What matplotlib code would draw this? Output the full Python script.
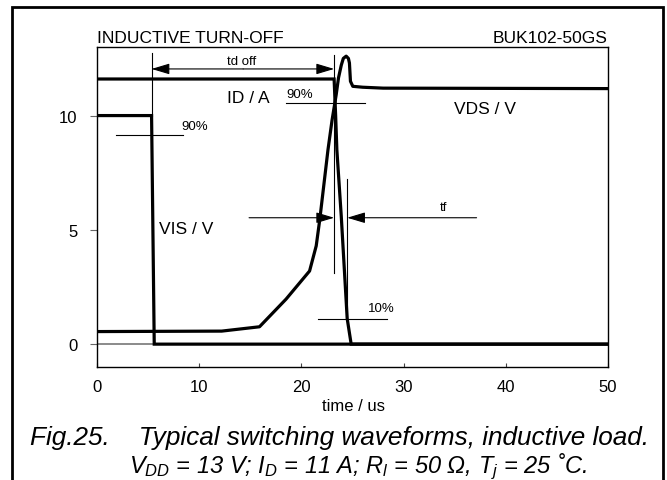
import matplotlib
matplotlib.use("Agg")
import matplotlib.pyplot as plt
from matplotlib.patches import Rectangle

plt.rcParams['font.family'] = ['Liberation Sans', 'DejaVu Sans']
plt.rcParams['mathtext.fontset'] = 'custom'
plt.rcParams['mathtext.it'] = 'Liberation Sans:italic'
plt.rcParams['mathtext.rm'] = 'Liberation Sans:italic'

# ---- data ----
vis_t = [0, 5.34, 5.6, 50]
vis_v = [10, 10, 0, 0]

id_t = [0, 23.2, 23.35, 23.47, 23.9, 24.48, 24.87, 50]
id_a = [11.6, 11.6, 10.0, 8.5, 5.6, 1.12, 0, 0]

vds_t = [0, 12.2, 15.9, 18.5, 20.8, 21.45, 21.8, 22.6, 23.0, 23.4, 23.63,
         23.9, 24.1, 24.38, 24.6, 24.7, 24.8, 25.03, 26.0, 28.0, 50]
vds_v = [0.55, 0.57, 0.76, 1.97, 3.2, 4.3, 5.46, 8.5, 9.8, 10.9, 11.65,
         12.2, 12.5, 12.6, 12.5, 12.3, 11.5, 11.28, 11.24, 11.2, 11.18]

x_ticks = [0, 10, 20, 30, 40, 50]
y_ticks = [0, 5, 10]

W, H = 667, 481
fig = plt.figure(figsize=(W / 100, H / 100), dpi=100)

# outer frame
fig.patches.append(Rectangle((12 / W, -0.05), (663 - 12) / W, 1.05 - 8 / H,
                             transform=fig.transFigure, fill=False,
                             lw=2.0, ec='black'))

ax = fig.add_axes([97 / W, 1 - 368 / H, (608 - 97) / W, (368 - 48) / H])
ax.set_xlim(0, 50)
ax.set_ylim(-1, 13)
for s in ax.spines.values():
    s.set_linewidth(1.0)
    s.set_color('black')

ax.axhline(0, color='#777777', lw=1.2, zorder=1)

lw = 2.3
ax.plot(vis_t, vis_v, color='black', lw=lw, solid_joinstyle='miter', zorder=3)
ax.plot(id_t, id_a, color='black', lw=lw, solid_joinstyle='miter', zorder=3)
ax.plot(vds_t, vds_v, color='black', lw=lw, solid_joinstyle='round', zorder=3)

ax.set_xticks(x_ticks)
ax.set_yticks(y_ticks)
ax.tick_params(axis='x', direction='in', length=3, width=0.8, color='#444444',
               labelsize=12, pad=8.5)
ax.tick_params(axis='y', direction='out', length=5, width=0.8, color='#666666',
               labelsize=12, pad=9)

thin = dict(color='black', lw=0.8, zorder=2)
# vertical markers
ax.plot([5.34, 5.34], [10, 12.75], **thin)
ax.plot([23.2, 23.2], [3.1, 12.66], **thin)
ax.plot([24.48, 24.48], [1.12, 7.24], **thin)
# percentage lines
ax.plot([1.86, 8.37], [9.14, 9.14], **thin)
ax.plot([18.5, 26.2], [10.55, 10.55], **thin)
ax.plot([21.65, 28.4], [1.12, 1.12], **thin)

ah = '-|>,head_length=1.1,head_width=0.33'
ap = dict(arrowstyle=ah, mutation_scale=10, lw=0.8, color='black',
          shrinkA=0, shrinkB=0)
ax.annotate('', xy=(23.2, 12.04), xytext=(14.3, 12.04), arrowprops=ap)
ax.annotate('', xy=(5.34, 12.04), xytext=(14.3, 12.04), arrowprops=ap)
ax.annotate('', xy=(23.2, 5.53), xytext=(14.88, 5.53), arrowprops=ap)
ax.annotate('', xy=(24.48, 5.53), xytext=(37.14, 5.53), arrowprops=ap)

ax.text(14.2, 12.37, 'td off', fontsize=9.5, ha='center', va='center')
ax.text(12.7, 10.77, 'ID / A', fontsize=12.5, ha='left', va='center')
ax.text(18.5, 10.95, '90%', fontsize=9.5, ha='left', va='center')
ax.text(8.26, 9.56, '90%', fontsize=9.5, ha='left', va='center')
ax.text(6.08, 5.05, 'VIS / V', fontsize=12.5, ha='left', va='center')
ax.text(34.96, 10.3, 'VDS / V', fontsize=12.5, ha='left', va='center')
ax.text(33.9, 6.0, 'tf', fontsize=9.5, ha='center', va='center')
ax.text(26.56, 1.6, '10%', fontsize=9.5, ha='left', va='center')

fig.text(97 / W, 1 - 43 / H, 'INDUCTIVE TURN-OFF', fontsize=12.5,
         ha='left', va='baseline')
fig.text(608 / W, 1 - 43 / H, 'BUK102-50GS', fontsize=12.5,
         ha='right', va='baseline')

fig.text(353 / W, 1 - 407 / H, 'time / us', fontsize=12,
         ha='center', va='center')

fig.text(340 / W, 1 - 445 / H,
         'Fig.25.    Typical switching waveforms, inductive load.',
         fontsize=18.8, style='italic', ha='center', va='baseline')
fig.text(358 / W, 1 - 473 / H,
         r'$V_{DD}$ = 13 V; $I_{D}$ = 11 A; $R_{l}$ = 50 Ω, $T_{j}$ = 25 ˚C.',
         fontsize=17, style='italic', ha='center', va='baseline')

fig.savefig('out.png', dpi=100)
